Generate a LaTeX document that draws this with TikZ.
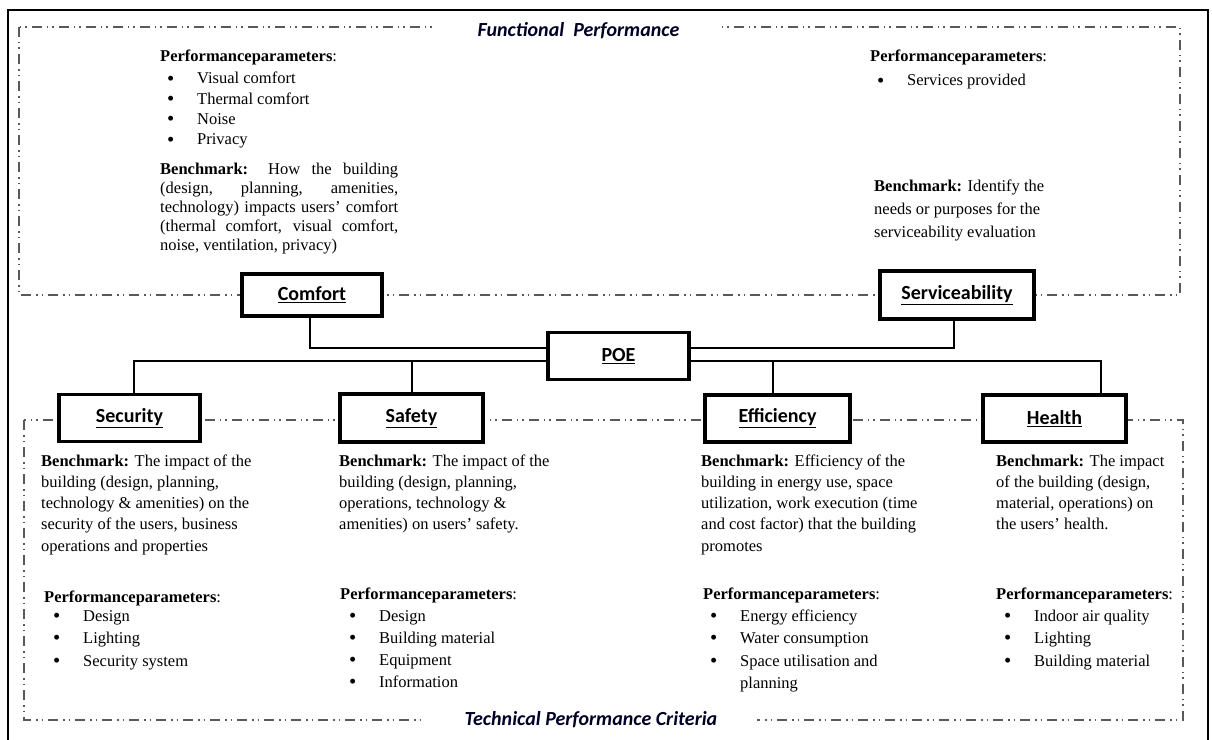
\documentclass[tikz,border=0pt]{standalone}
\usepackage{graphicx}
\usepackage{fontspec}
\setmainfont{Liberation Serif}
\newfontfamily\carlito{Carlito}
\newcommand\tblock[3]{\parbox[t]{#1}{\fontsize{16.5bp}{#2}\selectfont\raggedright #3}}
\newcommand\itm{\makebox[30bp][l]{\raisebox{-1.2bp}{\scalebox{1.25}{\textbullet}}}}
\newcommand\bm{\textbf{Benchmark:} }
\newcommand\pp{\textbf{Performanceparameters}:}
\tikzset{
  box/.style={draw, line width=3.5bp, fill=white, inner sep=0,
    font=\carlito\bfseries\fontsize{20bp}{24bp}\selectfont},
  conn/.style={line width=2bp},
  dframe/.style={draw=black!65, line width=1.3bp,
    dash pattern=on 10bp off 5bp on 1.5bp off 4bp on 1.5bp off 5bp},
  ttl/.style={fill=white, inner ysep=3bp,
    font=\carlito\bfseries\itshape\fontsize{20bp}{24bp}\selectfont, text=black!85!blue},
  txt/.style={anchor=base west, inner sep=0},
}
\begin{document}
\begin{tikzpicture}[x=1bp,y=-1bp]
\useasboundingbox (0,0) rectangle (1212,740);
% outer frame
\draw[line width=2.2bp] (8,10) rectangle (1208,760);
% dash-dot frames
\draw[dframe] (19,27) rectangle (1180,295);
\draw[dframe] (24,420) rectangle (1183,720);
\node[ttl, inner xsep=43bp] (tfun) at (578.5,31) {Functional\ \ Performance};
\node[ttl, inner xsep=40bp] (ttec) at (591,720) {Technical Performance Criteria};
% boxes
\node[box, minimum width=140bp, minimum height=42bp] (comf) at (312,295) {\underline{Comfort}};
\node[box, minimum width=154bp, minimum height=48bp] (serv) at (957,295) {\underline{Serviceability}};
\node[box, minimum width=141bp, minimum height=47bp] (poe) at (618.5,356) {\underline{POE}};
\node[box, minimum width=141bp, minimum height=47bp] (sec) at (129.5,418) {\underline{Security}};
\node[box, minimum width=143bp, minimum height=48bp] (safe) at (411.5,418) {\underline{Safety}};
\node[box, minimum width=145bp, minimum height=47bp] (eff) at (777.5,418.5) {\underline{Efficiency}};
\node[box, minimum width=143bp, minimum height=47bp] (hlth) at (1054.5,418.5) {\underline{Health}};
% connectors
\coordinate (bus) at ([yshift=-5bp]poe.west);
\coordinate (effT) at ([xshift=-4.5bp]eff.north);
\draw[conn] ([xshift=-2bp]comf.south) |- ([yshift=8bp]poe.west);
\draw[conn] ([xshift=-3bp]serv.south) |- ([yshift=8bp]poe.east);
\draw[conn] ([yshift=-5bp]poe.west) -| ([xshift=4.5bp]sec.north);
\draw[conn] ([yshift=-5bp]poe.east) -| ([xshift=46.5bp]hlth.north);
\draw[conn] (safe.north) -- (safe.north |- bus);
\draw[conn] (effT) -- (effT |- bus);
% top-left texts
\node[txt] (clp) at (160,62) {\tblock{260bp}{20bp}{\pp}};
\node[txt] (cli) at (167,84) {\tblock{260bp}{20.3bp}{\itm Visual comfort\\ \itm Thermal comfort\\ \itm Noise\\ \itm Privacy}};
\node[txt] (clb) at (160,174) {\parbox[t]{238bp}{\fontsize{16.5bp}{19.2bp}\selectfont
  \bm How the building\linebreak (design, planning, amenities,\linebreak technology) impacts users’ comfort\linebreak (thermal comfort, visual comfort,\linebreak noise, ventilation, privacy)}};
% top-right texts
\node[txt] (srp) at (870,62) {\tblock{260bp}{20bp}{\pp}};
\node[txt] (sri) at (877,86) {\tblock{260bp}{20bp}{\itm Services provided}};
\node[txt] (srb) at (874,191) {\tblock{260bp}{23bp}{\bm Identify the\\ needs or purposes for the\\ serviceability evaluation}};
% security
\node[txt] (scb) at (41,466) {\tblock{270bp}{21.3bp}{\bm The impact of the\\ building (design, planning,\\ technology \& amenities) on the\\ security of the users, business\\ operations and properties}};
\node[txt] (scp) at (44,602) {\tblock{260bp}{20bp}{\pp}};
\node[txt] (sci) at (53,621) {\tblock{260bp}{22.5bp}{\itm Design\\ \itm Lighting\\ \itm Security system}};
% safety
\node[txt] (sfb) at (339,466) {\tblock{270bp}{21bp}{\bm The impact of the\\ building (design, planning,\\ operations, technology \&\\ amenities) on users’ safety.}};
\node[txt] (sfp) at (340,599) {\tblock{260bp}{20bp}{\pp}};
\node[txt] (sfi) at (349,621) {\tblock{260bp}{22bp}{\itm Design\\ \itm Building material\\ \itm Equipment\\ \itm Information}};
% efficiency
\node[txt] (efb) at (701,466) {\tblock{270bp}{21.3bp}{\bm Efficiency of the\\ building in energy use, space\\ utilization, work execution (time\\ and cost factor) that the building\\ promotes}};
\node[txt] (efp) at (703,599) {\tblock{260bp}{20bp}{\pp}};
\node[txt] (efi) at (710,621) {\tblock{260bp}{22.5bp}{\itm Energy efficiency\\ \itm Water consumption\\ \itm Space utilisation and\\ \hspace*{30bp}planning}};
% health
\node[txt] (hlb) at (996,466) {\tblock{270bp}{21bp}{\bm The impact\\ of the building (design,\\ material, operations) on\\ the users’ health.}};
\node[txt] (hlp) at (996,599) {\tblock{260bp}{20bp}{\pp}};
\node[txt] (hli) at (1004,621) {\tblock{260bp}{22.5bp}{\itm Indoor air quality\\ \itm Lighting\\ \itm Building material}};
\end{tikzpicture}
\end{document}
